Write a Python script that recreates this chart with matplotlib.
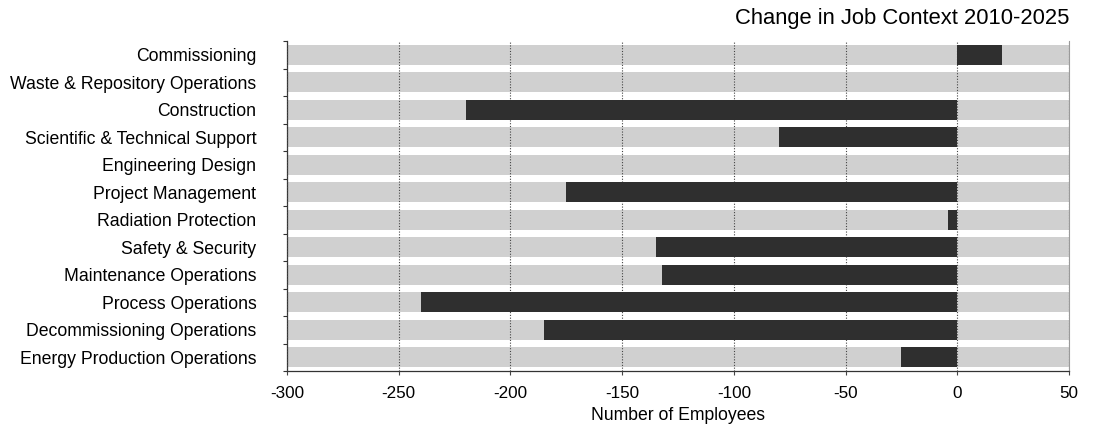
import matplotlib
matplotlib.use("Agg")
import matplotlib.pyplot as plt
import numpy as np

categories = [
    "Commissioning",
    "Waste & Repository Operations",
    "Construction",
    "Scientific & Technical Support",
    "Engineering Design",
    "Project Management",
    "Radiation Protection",
    "Safety & Security",
    "Maintenance Operations",
    "Process Operations",
    "Decommissioning Operations",
    "Energy Production Operations",
]
changes = [20, 0, -220, -80, 0, -175, -4, -135, -132, -240, -185, -25]
x_ticks = [-300, -250, -200, -150, -100, -50, 0, 50]
x_min, x_max = -300, 50

plt.rcParams['font.family'] = ['Liberation Sans', 'DejaVu Sans']

fig = plt.figure(figsize=(11.11, 4.33), dpi=100)
ax = fig.add_axes([287/1111, 1 - 371/433, (1069-287)/1111, 330/433])

y = np.arange(len(categories))
# background bands across full range
ax.barh(y, [x_max - x_min] * len(categories), left=x_min, height=0.72,
        color="#d0d0d0", zorder=1)
ax.barh(y, changes, left=0, height=0.72, color="#2f2f2f", zorder=3)

ax.set_xlim(x_min, x_max)
ax.set_ylim(len(categories) - 0.5, -0.5)
ax.set_xticks(x_ticks)
ax.set_xticklabels([str(t) for t in x_ticks], fontsize=12.3)
ax.set_yticks(y)
ax.set_yticklabels(categories, fontsize=12.7)
ax.set_yticks(np.arange(len(categories) + 1) - 0.5, minor=True)

ax.xaxis.grid(True, color="#444444", linestyle=(0, (1, 1.5)), linewidth=0.8, zorder=2)
ax.set_axisbelow(False)
for gl in ax.get_xgridlines():
    gl.set_zorder(2)

ax.tick_params(axis='y', which='major', length=0, pad=22)
ax.tick_params(axis='y', which='minor', length=3, width=0.8, color="#333333")
ax.tick_params(axis='x', length=3, width=0.8, pad=8, color="#444444")

ax.spines['top'].set_visible(False)
ax.spines['right'].set_color("#9a9a9a")
ax.spines['right'].set_linewidth(0.8)
ax.spines['left'].set_color("#333333")
ax.spines['left'].set_linewidth(0.9)
ax.spines['bottom'].set_color("#333333")
ax.spines['bottom'].set_linewidth(0.9)

ax.set_xlabel("Number of Employees", fontsize=12.7, labelpad=4)
ax.set_title("Change in Job Context 2010-2025", loc='right', fontsize=15.8, pad=12)

fig.savefig("out.png", dpi=100, facecolor="white")
